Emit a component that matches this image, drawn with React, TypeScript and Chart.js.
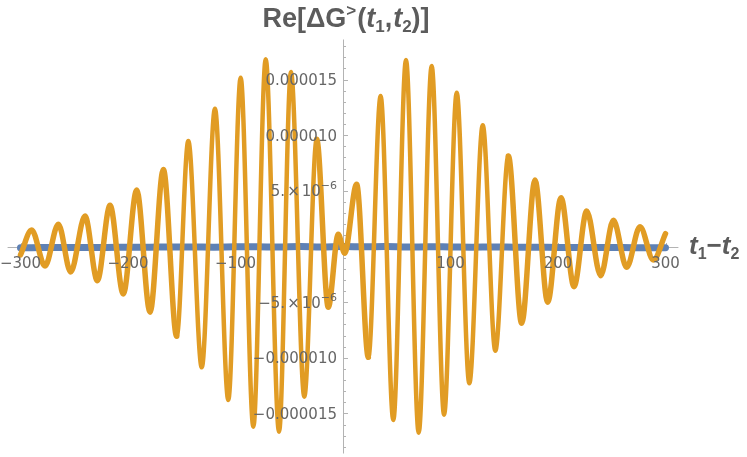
import React, { useEffect, useRef } from "react";
import { Chart, registerables } from "chart.js";

Chart.register(...registerables);

// values are in units of 1e-6
const SCALE = 1e-6;

// orange series: turning points (t1 - t2, value)
const orangeT = [
  -300, -289.6, -277.2, -264.8, -253.3, -240, -228.5, -216.7, -204.4, -191.9,
  -179.5, -167.1, -154.7, -143.9, -131.4, -119.1, -106.7, -95.2, -83.4, -71.9,
  -59.5, -48.4, -36.0, -24.5, -13.7, -4.4, 1.5, 12.7, 23.6, 35.0,
  46.8, 58.6, 70.4, 82.5, 94.0, 105.8, 117.5, 130.0, 141.7, 153.8,
  166.2, 178.6, 190.4, 202.8, 214.9, 226.7, 239.7, 251.5, 263.9, 276.3,
  288.7, 300,
];
const orangeV = [
  -0.76, 1.48, -1.75, 2.0, -2.29, 2.74, -3.07, 3.7, -4.27, 5.08,
  -5.9, 6.93, -8.07, 9.48, -10.86, 12.38, -13.79, 15.17, -16.19, 16.82,
  -16.64, 15.68, -13.49, 9.63, -5.46, 1.1, -0.6, 5.59, -9.96, 13.52,
  -15.59, 16.76, -16.73, 16.22, -15.11, 13.82, -12.29, 10.89, -9.36, 8.13,
  -6.9, 5.97, -5.01, 4.39, -3.61, 3.19, -2.62, 2.35, -1.87, 1.78,
  -1.21, 1.15,
];

// blue series: stays close to zero
const blueT = [
  -300, -280, -260, -240, -220, -200, -180, -160, -140, -120, -100, -80, -60,
  -40, -20, 0, 20, 40, 60, 80, 100, 120, 140, 160, 180, 200, 220, 240, 260,
  280, 300,
];
const blueV = [
  -0.12, -0.1, -0.1, -0.09, -0.08, -0.07, -0.06, -0.05, -0.04, -0.06, -0.03,
  -0.02, -0.05, -0.01, -0.04, 0.0, -0.03, -0.01, -0.05, -0.02, -0.04, -0.06,
  -0.04, -0.06, -0.07, -0.08, -0.09, -0.09, -0.1, -0.11, -0.12,
];

const X_MIN = -312;
const X_MAX = 312;
const Y_MIN = -18.6;
const Y_MAX = 18.6;

const xTickValues = [-300, -200, -100, 100, 200, 300];
const xTickLabels = ["\u2212300", "\u2212200", "\u2212100", "100", "200", "300"];
const xMinorStep = 20;
const yTickValues = [15, 10, 5, -5, -10, -15];
const yTickLabels = [
  "0.000015",
  "0.000010",
  "5.\u00d710^\u22126",
  "\u22125.\u00d710^\u22126",
  "\u22120.000010",
  "\u22120.000015",
];
const yMinorStep = 1;

const ORANGE = "#E19C24";
const BLUE = "#5E81B5";
const AXIS = "#b3b3b3";
const TICK_TEXT = "#666666";
const LABEL_TEXT = "#5c5c5c";
const FONT = "'DejaVu Sans', sans-serif";
const TFONT = "'Liberation Sans', Arial, sans-serif";

type Run = { text: string; font: string; dy: number; gap?: number };

function runsWidth(ctx: CanvasRenderingContext2D, runs: Run[]) {
  let w = 0;
  for (const r of runs) {
    ctx.font = r.font;
    w += ctx.measureText(r.text).width + (r.gap || 0);
  }
  return w;
}

function drawRuns(
  ctx: CanvasRenderingContext2D,
  runs: Run[],
  x: number,
  baseline: number
) {
  let cx = x;
  for (const r of runs) {
    ctx.font = r.font;
    ctx.fillText(r.text, cx, baseline + r.dy);
    cx += ctx.measureText(r.text).width + (r.gap || 0);
  }
}

const mmaPlugin = {
  id: "mmaAxes",
  beforeDatasetsDraw(chart: any) {
    const { ctx, scales } = chart;
    const xs = scales.x;
    const ys = scales.y;
    const x0 = Math.round(xs.getPixelForValue(0)) + 0.5;
    const y0 = Math.round(ys.getPixelForValue(0)) + 0.5;
    ctx.save();
    ctx.strokeStyle = AXIS;
    ctx.lineWidth = 1;
    ctx.beginPath();
    ctx.moveTo(xs.left, y0);
    ctx.lineTo(xs.right, y0);
    ctx.moveTo(x0, ys.top);
    ctx.lineTo(x0, ys.bottom);
    // x ticks
    for (let v = -300; v <= 300; v += xMinorStep) {
      if (v === 0) continue;
      const px = Math.round(xs.getPixelForValue(v)) + 0.5;
      const len = v % 100 === 0 ? 4.5 : 2.5;
      ctx.moveTo(px, y0);
      ctx.lineTo(px, y0 - len);
    }
    // y ticks
    for (let v = -18; v <= 18; v += yMinorStep) {
      if (v === 0) continue;
      const py = Math.round(ys.getPixelForValue(v * SCALE)) + 0.5;
      const len = v % 5 === 0 ? 4.5 : 2.5;
      ctx.moveTo(x0, py);
      ctx.lineTo(x0 + len, py);
    }
    ctx.stroke();
    ctx.restore();
  },
  afterDatasetsDraw(chart: any) {
    const { ctx, scales } = chart;
    const xs = scales.x;
    const ys = scales.y;
    const x0 = xs.getPixelForValue(0);
    const y0 = ys.getPixelForValue(0);
    ctx.save();
    ctx.fillStyle = TICK_TEXT;
    ctx.textBaseline = "alphabetic";
    ctx.textAlign = "left";
    const f = `15px ${FONT}`;
    const fs = `11px ${FONT}`;
    // x tick labels
    xTickValues.forEach((v, i) => {
      const px = xs.getPixelForValue(v);
      ctx.font = f;
      const w = ctx.measureText(xTickLabels[i]).width;
      ctx.fillText(xTickLabels[i], px - w / 2, y0 + 21);
    });
    // y tick labels
    yTickValues.forEach((v, i) => {
      const py = ys.getPixelForValue(v * SCALE);
      const lab = yTickLabels[i];
      let runs: Run[];
      if (lab.includes("^")) {
        const [m, e] = lab.split("^");
        const [a, b] = m.split("\u00d7");
        runs = [
          { text: a, font: f, dy: 0, gap: 2 },
          { text: "\u00d7", font: f, dy: 0, gap: 2 },
          { text: b, font: f, dy: 0, gap: 0 },
          { text: e, font: fs, dy: -7 },
        ];
      } else {
        runs = [{ text: lab, font: f, dy: 0 }];
      }
      const w = runsWidth(ctx, runs);
      drawRuns(ctx, runs, x0 - 6 - w, py + 5.5);
    });

    // title
    ctx.fillStyle = LABEL_TEXT;
    const tb = `bold 27px ${TFONT}`;
    const ti = `italic bold 27px ${TFONT}`;
    const ts = `bold 17px ${TFONT}`;
    const title: Run[] = [
      { text: "Re[\u0394G", font: tb, dy: 0 },
      { text: ">", font: ts, dy: -11, gap: 1 },
      { text: "(", font: tb, dy: 0 },
      { text: "t", font: ti, dy: 0 },
      { text: "1", font: ts, dy: 5 },
      { text: ",", font: tb, dy: 0, gap: 1 },
      { text: "t", font: ti, dy: 0 },
      { text: "2", font: ts, dy: 5 },
      { text: ")]", font: tb, dy: 0 },
    ];
    const tw = runsWidth(ctx, title);
    drawRuns(ctx, title, 346 - tw / 2, 27);

    // axis label
    const ab = `bold 26px ${TFONT}`;
    const ai = `italic bold 26px ${TFONT}`;
    const as = `bold 16px ${TFONT}`;
    const axl: Run[] = [
      { text: "t", font: ai, dy: 0 },
      { text: "1", font: as, dy: 5 },
      { text: "\u2212", font: ab, dy: 0 },
      { text: "t", font: ai, dy: 0 },
      { text: "2", font: as, dy: 5 },
    ];
    drawRuns(ctx, axl, 689, y0 + 7);
    ctx.restore();
  },
};

export default function App() {
  const ref = useRef<HTMLCanvasElement | null>(null);
  useEffect(() => {
    if (!ref.current) return;
    const orangeData = orangeT.map((t, i) => ({ x: t, y: orangeV[i] * SCALE }));
    const blueData = blueT.map((t, i) => ({ x: t, y: blueV[i] * SCALE }));
    const chart = new Chart(ref.current, {
      type: "line",
      data: {
        datasets: [
          {
            data: blueData,
            borderColor: BLUE,
            borderWidth: 7,
            borderCapStyle: "round",
            pointRadius: 0,
            tension: 0.4,
            clip: false,
            order: 2,
          } as any,
          {
            data: orangeData,
            borderColor: ORANGE,
            borderWidth: 5,
            borderCapStyle: "round",
            borderJoinStyle: "round",
            pointRadius: 0,
            cubicInterpolationMode: "monotone",
            clip: false,
            order: 1,
            segment: {
              borderWidth: (c: any) =>
                Math.abs(c.p0.parsed.y) > 7.5 * SCALE &&
                Math.abs(c.p1.parsed.y) > 7.5 * SCALE
                  ? 4.5
                  : 5.5,
            },
          } as any,
        ],
      },
      options: {
        animation: false,
        responsive: false,
        devicePixelRatio: 1,
        parsing: false as any,
        layout: {
          padding: { left: 7.6, right: 68.6, top: 39.5, bottom: 3.5 },
        },
        plugins: {
          legend: { display: false },
          tooltip: { enabled: false },
          title: { display: false },
        },
        scales: {
          x: { type: "linear", min: X_MIN, max: X_MAX, display: false },
          y: {
            type: "linear",
            min: Y_MIN * SCALE,
            max: Y_MAX * SCALE,
            display: false,
          },
        },
      },
      plugins: [mmaPlugin],
    });
    return () => chart.destroy();
  }, []);
  return (
    <div
      style={{
        position: "absolute",
        left: 0,
        top: 0,
        width: 747,
        height: 457,
        background: "#fff",
      }}
    >
      <canvas ref={ref} width={747} height={457} />
    </div>
  );
}
